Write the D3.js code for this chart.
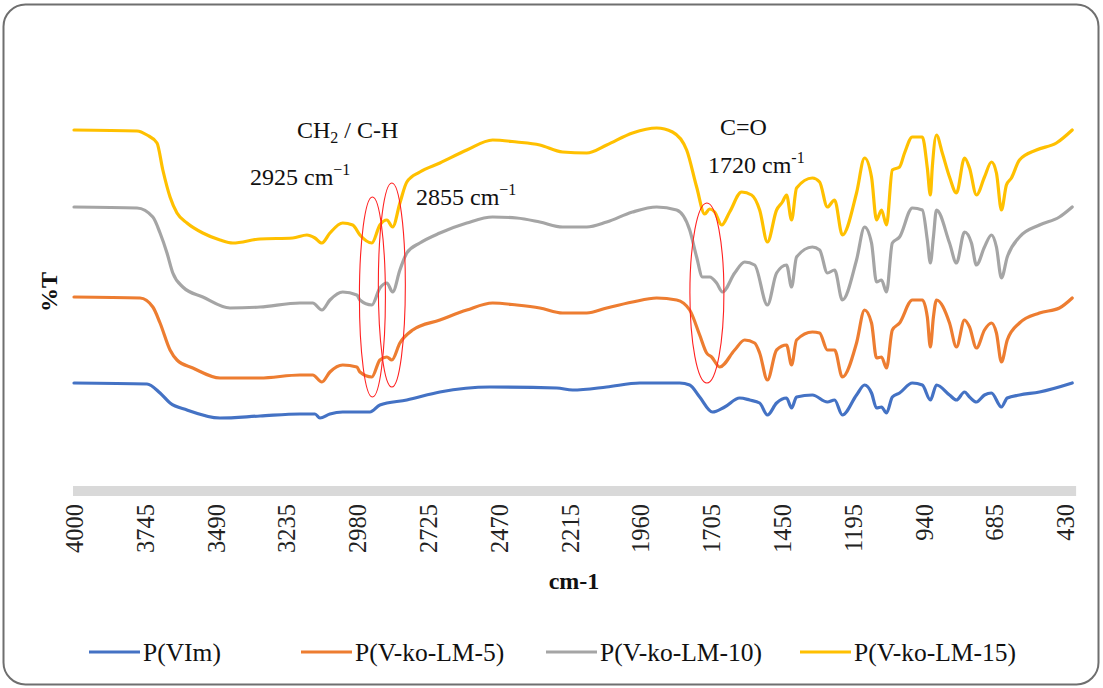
<!DOCTYPE html>
<html>
<head>
<meta charset="utf-8">
<script src="https://cdn.jsdelivr.net/npm/d3@7/dist/d3.min.js"></script>
<style>
  html, body { margin: 0; padding: 0; background: #ffffff; }
  svg { display: block; }
  text { font-family: "Liberation Serif", "Times New Roman", serif; fill: #111; }
</style>
</head>
<body>
<svg id="chart" width="1103" height="688"></svg>
<script>
// ---------- DATA (wavenumber cm-1, %T in arbitrary offset units) ----------
const seriesNames = ["P(VIm)", "P(V-ko-LM-5)", "P(V-ko-LM-10)", "P(V-ko-LM-15)"];
const seriesColors = ["#4472C4", "#ED7D31", "#A5A5A5", "#FFC000"];
const tickLabels = [4000, 3745, 3490, 3235, 2980, 2725, 2470, 2215, 1960, 1705, 1450, 1195, 940, 685, 430];

const pVIm = [
  [4000,10.3],[3737,10.2],[3690,9.3],[3654,8.3],[3593,7.6],[3474,6.8],[3330,7.0],[3186,7.2],[3132,7.2],
  [3114,6.8],[3078,7.2],[3032,7.4],[2934,7.4],[2898,8.1],[2801,8.6],[2682,9.4],[2502,9.9],[2261,9.8],
  [2204,9.6],[2081,9.9],[1962,10.3],[1818,10.3],[1782,10.1],[1746,8.9],[1700,7.4],[1656,7.9],[1602,8.8],
  [1566,8.6],[1530,8.3],[1502,7.1],[1469,8.3],[1433,8.8],[1415,7.8],[1397,8.9],[1340,9.1],[1286,8.4],
  [1260,8.6],[1232,7.1],[1181,9.1],[1152,10.1],[1127,9.3],[1109,7.8],[1091,7.9],[1073,7.3],[1052,8.9],
  [1026,9.3],[980,10.3],[944,10.1],[915,8.6],[893,10.1],[846,9.1],[821,8.6],[792,9.4],[774,8.9],
  [749,8.4],[720,9.1],[695,9.3],[659,7.9],[638,8.8],[594,9.1],[522,9.4],[404,10.3]
];
const pLM5 = [
  [4000,18.9],[3762,18.8],[3716,17.9],[3690,16.3],[3654,13.6],[3629,12.6],[3572,11.8],[3474,10.8],
  [3330,10.8],[3186,11.1],[3140,11.1],[3107,10.4],[3078,11.4],[3032,12.1],[2981,11.9],[2970,11.4],
  [2927,10.9],[2898,12.6],[2873,12.9],[2855,12.6],[2826,14.3],[2780,15.6],[2682,16.6],[2585,17.6],
  [2492,18.3],[2405,18.1],[2322,17.8],[2240,17.3],[2153,17.3],[2081,17.8],[1988,18.4],[1901,18.8],
  [1829,18.6],[1782,17.6],[1746,15.1],[1721,13.3],[1703,12.9],[1674,11.9],[1620,13.6],[1584,14.6],
  [1548,14.3],[1530,13.3],[1502,10.6],[1469,13.6],[1433,14.1],[1415,12.1],[1397,14.6],[1340,15.4],
  [1314,15.3],[1286,13.6],[1260,13.6],[1232,10.9],[1181,14.3],[1152,17.6],[1127,16.3],[1109,12.8],
  [1091,12.9],[1073,11.8],[1052,15.6],[1026,16.3],[980,18.6],[944,18.6],[926,16.9],[915,13.9],
  [904,16.9],[893,18.6],[846,16.3],[821,13.9],[792,16.6],[774,15.9],[749,13.8],[720,15.6],[695,16.3],
  [677,15.3],[659,12.4],[638,14.6],[594,16.3],[522,17.3],[450,17.8],[404,18.8]
];
const pLM10 = [
  [4000,27.9],[3773,27.8],[3716,26.9],[3690,25.3],[3665,23.3],[3644,21.3],[3608,19.9],[3536,18.9],
  [3438,17.8],[3330,17.9],[3186,18.3],[3140,18.3],[3107,17.6],[3078,18.6],[3032,19.4],[2981,19.1],
  [2970,18.6],[2927,18.1],[2898,19.8],[2873,20.3],[2852,19.4],[2826,21.6],[2801,23.3],[2754,24.3],
  [2682,25.3],[2585,26.3],[2492,26.9],[2405,26.8],[2322,26.4],[2240,25.9],[2153,25.9],[2081,26.4],
  [1988,27.4],[1901,27.9],[1829,27.6],[1782,25.6],[1757,22.9],[1736,20.9],[1710,20.9],[1685,20.3],
  [1664,19.4],[1620,21.3],[1584,22.4],[1548,22.1],[1502,18.1],[1469,21.3],[1433,22.1],[1415,19.9],
  [1397,22.9],[1340,23.9],[1314,23.6],[1286,21.3],[1260,21.6],[1232,18.6],[1181,22.6],[1152,25.9],
  [1127,24.3],[1109,20.4],[1091,20.6],[1073,19.4],[1052,24.3],[1026,24.9],[980,27.8],[944,27.6],
  [926,24.6],[915,22.3],[904,24.9],[893,27.6],[846,24.3],[821,22.3],[792,25.4],[767,24.3],[749,22.1],
  [720,23.9],[695,25.1],[677,23.9],[659,20.8],[638,22.9],[594,24.9],[522,26.1],[450,26.9],[404,27.9]
];
const pLM15 = [
  [4000,35.6],[3773,35.5],[3737,35.1],[3701,34.3],[3680,31.6],[3654,28.9],[3629,27.3],[3593,26.3],
  [3536,25.3],[3474,24.6],[3428,24.3],[3330,24.7],[3212,24.8],[3161,25.1],[3132,24.8],[3107,24.3],
  [3078,25.3],[3032,26.3],[2996,26.1],[2970,25.1],[2927,24.3],[2898,26.1],[2873,26.6],[2852,25.9],
  [2826,28.3],[2801,30.4],[2754,31.4],[2682,32.3],[2585,33.6],[2492,34.6],[2405,34.4],[2322,34.1],
  [2240,33.4],[2153,33.3],[2081,34.1],[1988,35.3],[1901,35.8],[1844,35.4],[1793,33.6],[1757,29.9],
  [1728,27.2],[1710,27.7],[1692,27.4],[1667,26.1],[1638,27.4],[1595,29.4],[1559,29.1],[1530,27.6],
  [1502,24.4],[1469,27.6],[1448,28.4],[1433,29.1],[1415,26.6],[1397,29.8],[1340,30.8],[1314,30.4],
  [1286,27.9],[1260,28.6],[1232,25.1],[1181,29.3],[1152,32.8],[1127,30.9],[1109,26.6],[1091,27.6],
  [1073,26.1],[1052,31.6],[1026,31.9],[1008,33.3],[980,34.9],[944,34.9],[926,31.8],[915,29.1],
  [908,31.9],[893,35.1],[872,33.3],[846,30.9],[821,29.3],[792,32.8],[774,31.8],[749,29.1],[720,30.9],
  [695,32.4],[677,31.3],[659,27.6],[641,30.1],[623,30.8],[594,32.6],[533,33.6],[461,34.3],[404,35.6]
];
const allSeries = [pVIm, pLM5, pLM10, pLM15];

const bands = [2925, 2855, 1720];
const annotations = [
  { text: "CH", sub: "2", rest: " / C-H" },
  { text: "2925 cm", sup: "\u22121" },
  { text: "2855 cm", sup: "\u22121" },
  { text: "C=O" },
  { text: "1720 cm", sup: "-1" }
];

// ---------- SCALES ----------
const svg = d3.select("#chart");
const x = d3.scaleLinear().domain([4000, 430]).range([74, 1065]);
const y = d3.scaleLinear().domain([0, 38]).range([486, 106]);
const axisEnd = 390;

// frame
svg.append("rect")
  .attr("x", 3.5).attr("y", 4.5).attr("width", 1095).attr("height", 680)
  .attr("rx", 22).attr("ry", 22)
  .attr("fill", "#fff").attr("stroke", "#6f6f6f").attr("stroke-width", 2);

// axis bar
svg.append("line")
  .attr("x1", x(4000) - 1).attr("x2", x(axisEnd))
  .attr("y1", 491).attr("y2", 491)
  .attr("stroke", "#d9d9d9").attr("stroke-width", 10);

const xAxis = d3.axisBottom(x).tickValues(tickLabels).tickSize(0).tickFormat(d => String(d));
const gx = svg.append("g").attr("transform", "translate(0,496)").call(xAxis);
gx.select(".domain").remove();
gx.selectAll("text")
  .attr("transform", "rotate(-90)")
  .attr("x", -8).attr("y", 0).attr("dy", "0.35em")
  .style("text-anchor", "end")
  .style("font-family", "'Liberation Serif', serif")
  .style("font-size", "24.5px")
  .style("fill", "#222");

// axis titles
svg.append("text").attr("x", 574).attr("y", 589)
  .attr("text-anchor", "middle").style("font-weight", "bold").style("font-size", "24px").text("cm-1");
svg.append("text").attr("transform", "translate(57,292) rotate(-90)")
  .attr("text-anchor", "middle").style("font-weight", "bold").style("font-size", "24px").text("%T");

// lines
const line = d3.line().x(d => x(d[0])).y(d => y(d[1])).curve(d3.curveMonotoneX);
svg.append("g").selectAll("path").data(allSeries).join("path")
  .attr("d", line)
  .attr("fill", "none")
  .attr("stroke", (d, i) => seriesColors[i])
  .attr("stroke-width", 3.2)
  .attr("stroke-linejoin", "round")
  .attr("stroke-linecap", "round");

// ellipses
const ellY = [297, 285, 293], ellRy = [100, 102, 90], ellRx = [13, 13.5, 17];
svg.append("g").selectAll("ellipse").data(bands).join("ellipse")
  .attr("cx", d => x(d)).attr("cy", (d, i) => ellY[i])
  .attr("rx", (d, i) => ellRx[i]).attr("ry", (d, i) => ellRy[i])
  .attr("fill", "none").attr("stroke", "#ff2020").attr("stroke-width", 1.1);

// annotation texts
const annPos = [[297, 138], [250, 185], [416, 205], [720, 135], [708, 173]];
annotations.forEach((a, i) => {
  const t = svg.append("text").attr("x", annPos[i][0]).attr("y", annPos[i][1])
    .style("font-size", "24px");
  t.append("tspan").text(a.text);
  if (a.sub) {
    t.append("tspan").attr("dy", 5).style("font-size", "16px").text(a.sub);
    t.append("tspan").attr("dy", -5).text(a.rest);
  }
  if (a.sup) {
    t.append("tspan").attr("dy", -10).style("font-size", "16px").text(a.sup);
  }
});

// legend
const legX = [89, 301, 546, 800];
const leg = svg.append("g").selectAll("g").data(seriesNames).join("g")
  .attr("transform", (d, i) => `translate(${legX[i]},652)`);
leg.append("line").attr("x1", 0).attr("x2", 51).attr("y1", 0).attr("y2", 0)
  .attr("stroke", (d, i) => seriesColors[i]).attr("stroke-width", 3.2);
leg.append("text").attr("x", 54).attr("y", 8.5).style("font-size", "25.5px").text(d => d);
</script>
</body>
</html>
